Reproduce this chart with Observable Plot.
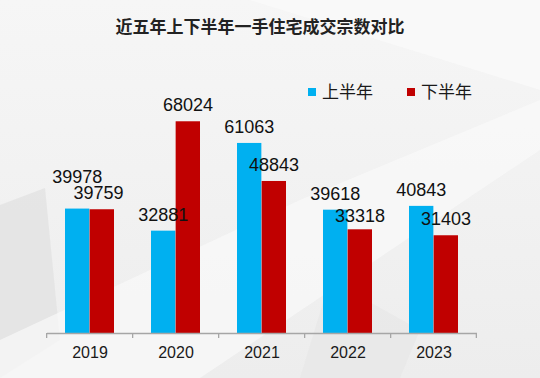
<!DOCTYPE html>
<html>
<head>
<meta charset="utf-8">
<script src="https://cdn.jsdelivr.net/npm/d3@7"></script>
<script src="https://cdn.jsdelivr.net/npm/@observablehq/plot@0.6"></script>
<style>
  html, body { margin: 0; padding: 0; background: #f0f0f0; }
  #chart {
    position: relative; width: 540px; height: 378px; overflow: hidden;
    background: linear-gradient(180deg, #f6f6f6 0%, #f2f2f2 45%, #ededed 100%);
  }
  .bg { position: absolute; left: 0; top: 0; width: 540px; height: 378px; }
  #bg1 { background: #e2e2e2; clip-path: polygon(0px 205px, 45px 188px, 60px 340px, 0px 378px); opacity: 0.8; }
  #bg2 { background: #fafafa; clip-path: polygon(0px 378px, 0px 340px, 300px 200px, 540px 100px, 540px 150px, 200px 378px); opacity: 0.7; }
  #bg3 { background: #e6e6e6; clip-path: polygon(330px 280px, 420px 330px, 400px 378px, 300px 378px); opacity: 0.6; }
  #bg4 { background: #fbfbfb; clip-path: polygon(250px 0px, 540px 0px, 540px 90px); opacity: 0.7; }
  #title {
    position: absolute; left: 0; top: 15px; width: 520px; text-align: center;
    font-family: "Noto Sans CJK SC", sans-serif; font-weight: bold; font-size: 17px;
    line-height: 22px; color: #222;
  }
  .lg { position: absolute; font-family: "Noto Sans CJK SC", sans-serif; font-size: 17px; line-height: 20px; color: #1a1a1a; }
  .sw { position: absolute; width: 8px; height: 8px; }
  #plot { position: absolute; left: 0; top: 0; }
</style>
</head>
<body>
<div id="chart">
  <div class="bg" id="bg1"></div>
  <div class="bg" id="bg2"></div>
  <div class="bg" id="bg3"></div>
  <div class="bg" id="bg4"></div>
  <div id="title"></div>
  <div id="legend"></div>
  <div id="plot"></div>
</div>
<script>
const years = ["2019", "2020", "2021", "2022", "2023"];
const firstHalf = [39978, 32881, 61063, 39618, 40843];
const secondHalf = [39759, 68024, 48843, 33318, 31403];
const seriesNames = ["上半年", "下半年"];
const seriesColors = ["#00b0f0", "#c00000"];
const titleText = "近五年上下半年一手住宅成交宗数对比";

document.getElementById("title").textContent = titleText;

// legend
const legend = document.getElementById("legend");
const legendPos = [[308, 322], [407, 421]];
seriesNames.forEach((name, i) => {
  const sw = document.createElement("div");
  sw.className = "sw";
  sw.style.left = legendPos[i][0] + "px";
  sw.style.top = "88px";
  sw.style.background = seriesColors[i];
  legend.appendChild(sw);
  const t = document.createElement("div");
  t.className = "lg";
  t.style.left = legendPos[i][1] + "px";
  t.style.top = "81px";
  t.textContent = name;
  legend.appendChild(t);
});

const rowsA = years.map((y, i) => ({year: y, value: firstHalf[i]}));
const rowsB = years.map((y, i) => ({year: y, value: secondHalf[i]}));

const W = 540, H = 378, mL = 47, mR = 63, mT = 84, mB = 45;
const pInner = 0.427;
const step = (W - mL - mR) / years.length;
const bw = step * (1 - pInner);
const half = bw / 2;

// small manual label nudges (to avoid overlaps as in the original)
const nudgeAy = {"2019": -16};
const nudgeBy = {"2022": 2.5};
const nudgeBx = {"2019": -3.5};

const labelFont = "'Liberation Sans', Arial, sans-serif";

const plot = Plot.plot({
  width: W, height: H,
  marginLeft: mL, marginRight: mR, marginTop: mT, marginBottom: mB,
  style: {background: "transparent", overflow: "visible", fontFamily: labelFont},
  x: {domain: years, paddingInner: pInner, paddingOuter: pInner / 2, label: null},
  y: {domain: [0, 80000], axis: null},
  marks: [
    Plot.barY(rowsA, {x: "year", y: "value", fill: seriesColors[0], insetRight: half}),
    Plot.barY(rowsB, {x: "year", y: "value", fill: seriesColors[1], insetLeft: half}),
    Plot.ruleY([0], {stroke: "#a6a6a6", strokeWidth: 1.3}),
    Plot.axisX({tickSize: 0, tickPadding: 13, fontSize: 16, fill: "#1a1a1a", fontFamily: labelFont})
  ]
});
document.getElementById("plot").appendChild(plot);

// Data labels placed with the plot's own scales
const xs = plot.scale("x");
const ys = plot.scale("y");
const svg = d3.select(plot);
const g = svg.append("g").attr("font-family", labelFont).attr("font-size", 18).attr("fill", "#111").attr("text-anchor", "middle");
rowsA.forEach(d => {
  g.append("text")
    .attr("x", xs.apply(d.year) + half / 2)
    .attr("y", ys.apply(d.value) - 10 + (nudgeAy[d.year] || 0))
    .text(String(d.value));
});
rowsB.forEach(d => {
  g.append("text")
    .attr("x", xs.apply(d.year) + half * 1.5 + (nudgeBx[d.year] || 0))
    .attr("y", ys.apply(d.value) - 10 + (nudgeBy[d.year] || 0))
    .text(String(d.value));
});

// tick marks at band boundaries
const base = ys.apply(0);
const bounds = years.map(y => xs.apply(y) - xs.step * pInner / 2);
bounds.push(xs.apply(years[years.length - 1]) + xs.bandwidth + xs.step * pInner / 2);
svg.append("g").selectAll("line").data(bounds).join("line")
  .attr("x1", d => d).attr("x2", d => d)
  .attr("y1", base).attr("y2", base + 5)
  .attr("stroke", "#a6a6a6").attr("stroke-width", 1.3);
</script>
</body>
</html>
